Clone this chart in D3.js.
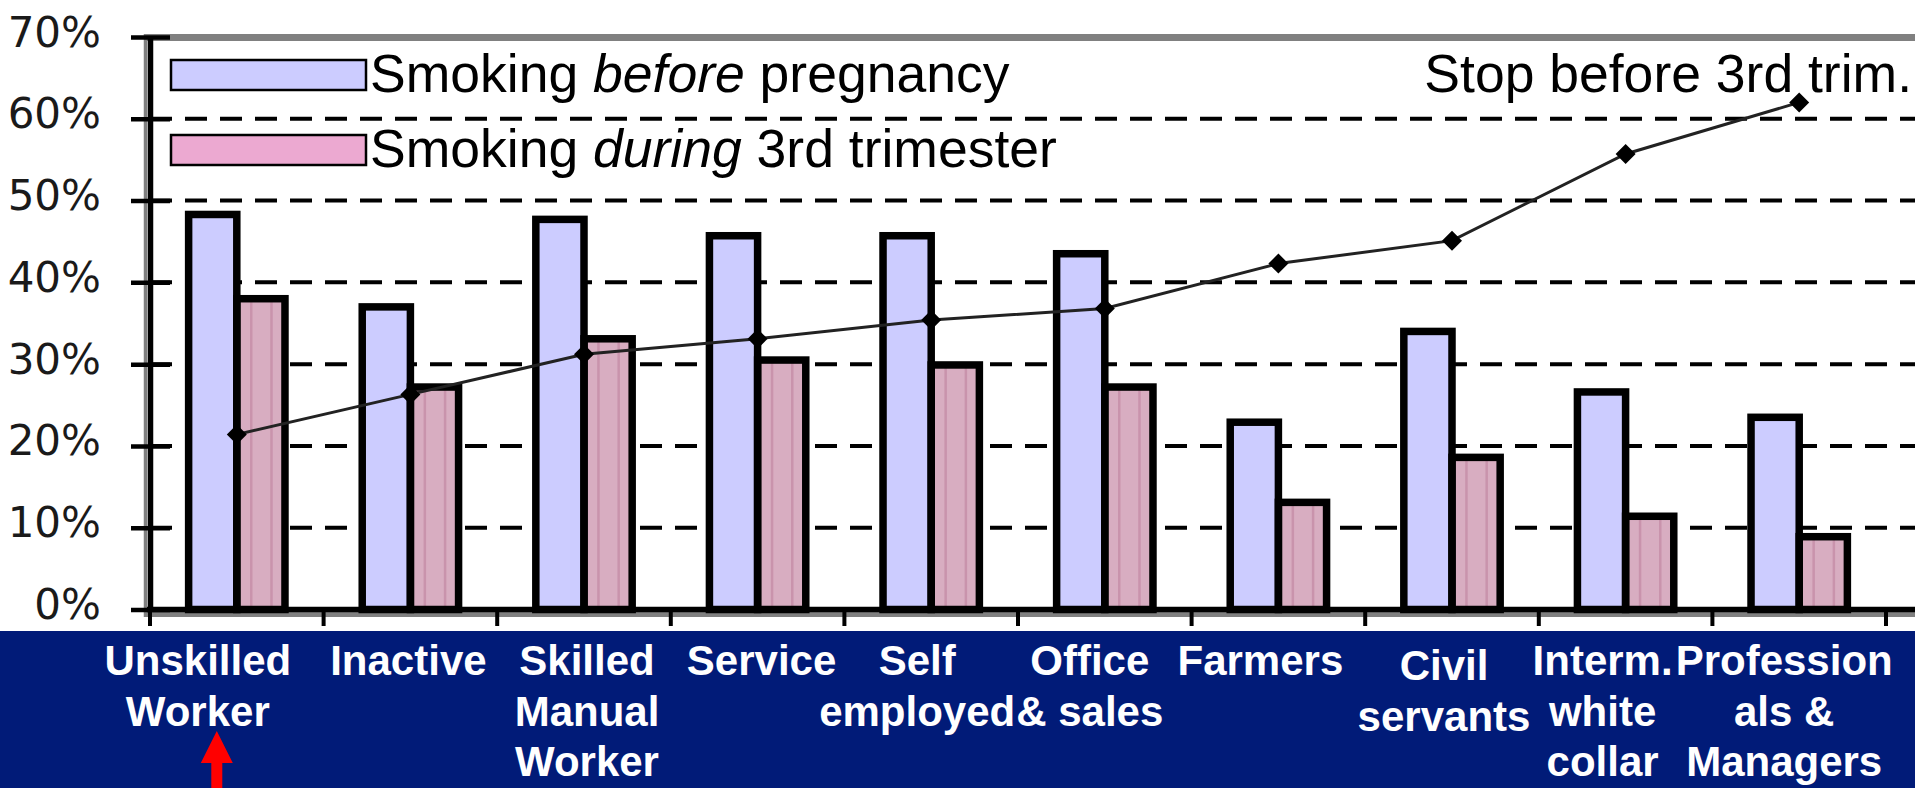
<!DOCTYPE html>
<html><head><meta charset="utf-8">
<script src="https://cdn.jsdelivr.net/npm/d3@7"></script>
<style>html,body{margin:0;padding:0;background:#fff;overflow:hidden}</style>
</head><body>
<svg id="chart" width="1915" height="788"></svg>
<script>
// ---------- DATA ----------
const categories = ["Unskilled Worker","Inactive","Skilled Manual Worker","Service","Self employed","Office & sales","Farmers","Civil servants","Interm. white collar","Professionals & Managers"];
const categoryLines = [["Unskilled","Worker"],["Inactive"],["Skilled","Manual","Worker"],["Service"],["Self","employed"],["Office","& sales"],["Farmers"],["Civil","servants"],["Interm.","white","collar"],["Profession","als &","Managers"]];
const seriesNames = ["Smoking before pregnancy","Smoking during 3rd trimester"];
const smokingBefore = [0.483,0.370,0.477,0.457,0.457,0.435,0.229,0.340,0.266,0.235];
const smokingDuring = [0.380,0.272,0.331,0.305,0.299,0.272,0.131,0.186,0.114,0.089];
const lineName = "Stop before 3rd trim.";
const stopBefore3rd = [0.214,0.263,0.312,0.331,0.354,0.368,0.423,0.451,0.557,0.620];
const yTicks = [0,0.1,0.2,0.3,0.4,0.5,0.6,0.7];

// ---------- LAYOUT ----------
const W = 1915, H = 788;
const labelShift = [-39,-2,3,4,-14,-15,-18,-8,-23,-15];
const labelShiftY = [0,0,0,0,0,0,0,5,0,0];
const colors = {before:"#ccccff", during:"#d8adc1", stripe:"#c993ac", duringLegend:"#eca9d1", band:"#011b78"};

const svg = d3.select("#chart");

const x = d3.scaleBand().domain(categories).range([150,1886]).padding(0);
const y = d3.scaleLinear().domain([0,0.7]).range([609.5,37]);
const groupW = x.bandwidth()*0.555;
const x1 = d3.scaleBand().domain(seriesNames).range([-groupW/2, groupW/2]).padding(0);

// gridlines
svg.append("g").selectAll("line").data(yTicks.filter(d=>d>0 && d<0.7)).join("line")
  .attr("x1",150).attr("x2",W).attr("y1",d=>y(d)).attr("y2",d=>y(d))
  .attr("stroke","#000").attr("stroke-width",4).attr("stroke-dasharray","22,13");

// plot border (gray)
svg.append("line").attr("x1",144).attr("x2",W).attr("y1",37.5).attr("y2",37.5).attr("stroke","#808080").attr("stroke-width",7);
svg.append("line").attr("x1",145.5).attr("x2",145.5).attr("y1",34).attr("y2",617).attr("stroke","#808080").attr("stroke-width",3.5);
svg.append("line").attr("x1",144).attr("x2",W).attr("y1",614.5).attr("y2",614.5).attr("stroke","#808080").attr("stroke-width",5);

// bars
const rows = categories.map((c,i)=>({c, vals:[smokingBefore[i], smokingDuring[i]]}));
const g = svg.append("g").selectAll("g").data(rows).join("g")
  .attr("transform",d=>`translate(${x(d.c)+x.bandwidth()/2},0)`);
const bw = x1.bandwidth();
g.selectAll("rect").data(d=>d.vals.map((v,k)=>({k,v}))).join("rect")
  .attr("x",d=>x1(seriesNames[d.k])).attr("width",bw)
  .attr("y",d=>y(d.v)).attr("height",d=>y(0)-y(d.v))
  .attr("fill",d=>d.k===0?colors.before:colors.during);
// faint vertical stripes in the pink bars
g.selectAll("line.stripe").data(d=>[0.3,0.72].map(f=>({f,v:d.vals[1]}))).join("line")
  .attr("class","stripe")
  .attr("x1",d=>x1(seriesNames[1])+bw*d.f).attr("x2",d=>x1(seriesNames[1])+bw*d.f)
  .attr("y1",d=>y(d.v)).attr("y2",y(0))
  .attr("stroke",colors.stripe).attr("stroke-width",2.5);
g.selectAll("rect.outline").data(d=>d.vals.map((v,k)=>({k,v}))).join("rect")
  .attr("class","outline")
  .attr("x",d=>x1(seriesNames[d.k])).attr("width",bw)
  .attr("y",d=>y(d.v)).attr("height",d=>y(0)-y(d.v))
  .attr("fill","none").attr("stroke","#000").attr("stroke-width",7.5);

// y axis
const yAxis = d3.axisLeft(y).tickValues(yTicks).tickFormat(d3.format(".0%"))
  .tickSizeInner(19).tickSizeOuter(0).tickPadding(30);
const ya = svg.append("g").attr("transform","translate(150,0)").call(yAxis);
ya.select(".domain").attr("stroke","#000").attr("stroke-width",5.5);
ya.selectAll(".tick line").attr("x1",-19).attr("x2",20).attr("stroke","#000").attr("stroke-width",4.5);
ya.selectAll(".tick text").attr("font-family","DejaVu Sans").attr("font-size",42)
  .attr("fill","#1a1a1a").attr("dy",null).attr("y",9).attr("textLength",null);

// x axis line and ticks at category boundaries
svg.append("line").attr("x1",147).attr("x2",W).attr("y1",y(0)).attr("y2",y(0)).attr("stroke","#000").attr("stroke-width",5.5);
const bounds = categories.map(c=>x(c)).concat([x.range()[1]]);
svg.append("g").selectAll("line").data(bounds).join("line")
  .attr("x1",d=>d).attr("x2",d=>d).attr("y1",y(0)).attr("y2",626)
  .attr("stroke","#000").attr("stroke-width",4);

// line series
const pts = categories.map((c,i)=>[x(c)+x.bandwidth()/2, y(stopBefore3rd[i])]);
svg.append("path").attr("d",d3.line()(pts)).attr("fill","none").attr("stroke","#222").attr("stroke-width",3);
const dm = 10;
svg.append("g").selectAll("path").data(pts).join("path")
  .attr("d",p=>`M${p[0]},${p[1]-dm}L${p[0]+dm},${p[1]}L${p[0]},${p[1]+dm}L${p[0]-dm},${p[1]}Z`)
  .attr("fill","#000");

// legend
const legend = svg.append("g").attr("font-family","Liberation Sans, Arial, sans-serif").attr("font-size",53.5).attr("fill","#000");
legend.append("rect").attr("x",171).attr("y",60).attr("width",195).attr("height",30).attr("fill",colors.before).attr("stroke","#000").attr("stroke-width",2.5);
legend.append("rect").attr("x",171).attr("y",135).attr("width",195).attr("height",30).attr("fill",colors.duringLegend).attr("stroke","#000").attr("stroke-width",2.5);
const t1 = legend.append("text").attr("x",370).attr("y",92);
t1.append("tspan").text("Smoking ");
t1.append("tspan").attr("font-style","italic").text("before");
t1.append("tspan").text(" pregnancy");
const t2 = legend.append("text").attr("x",370).attr("y",167);
t2.append("tspan").text("Smoking ");
t2.append("tspan").attr("font-style","italic").text("during");
t2.append("tspan").text(" 3rd trimester");
legend.append("text").attr("x",1912).attr("y",92).attr("text-anchor","end").text(lineName);

// category band
svg.append("rect").attr("x",0).attr("y",631).attr("width",W).attr("height",H-631).attr("fill",colors.band);
const lab = svg.append("g").attr("font-family","Liberation Sans, Arial, sans-serif").attr("font-weight","bold")
  .attr("font-size",42).attr("fill","#fff").attr("text-anchor","middle");
categories.forEach((c,i)=>{
  const cx = x(c)+x.bandwidth()/2+labelShift[i];
  categoryLines[i].forEach((ln,j)=>{
    lab.append("text").attr("x",cx).attr("y",675+labelShiftY[i]+j*50.5).text(ln);
  });
});

// red arrow annotation under first category
const ax = x(categories[0])+x.bandwidth()/2+labelShift[0]+19;
svg.append("path")
  .attr("d",`M${ax},731 L${ax+16},763 L${ax+5.5},763 L${ax+5.5},788 L${ax-5.5},788 L${ax-5.5},763 L${ax-16},763 Z`)
  .attr("fill","#ff0000");
</script>
</body></html>
